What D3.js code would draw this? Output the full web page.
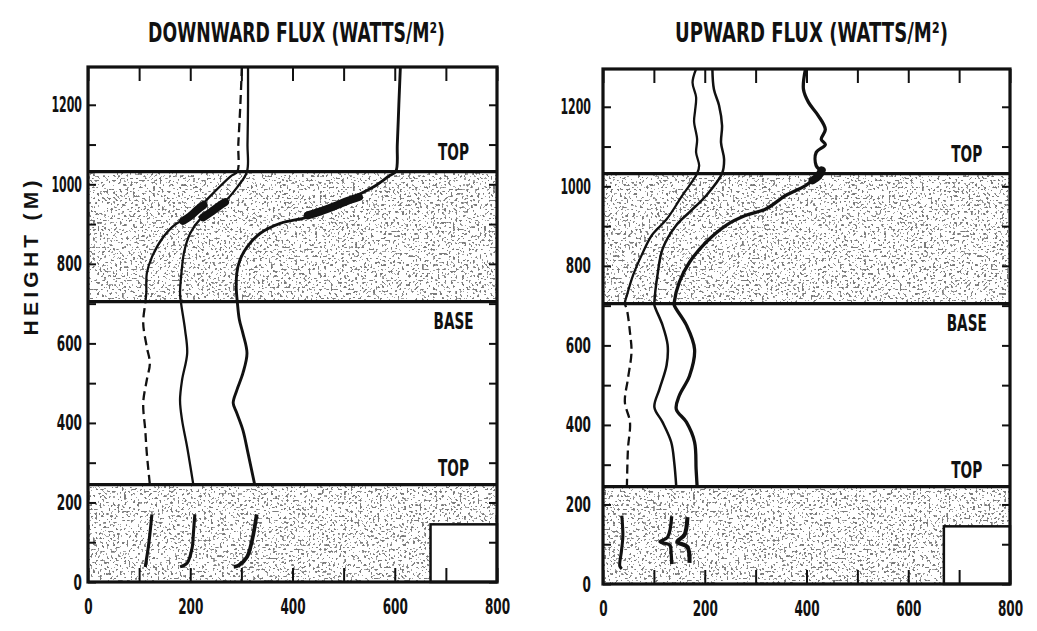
<!DOCTYPE html>
<html>
<head>
<meta charset="utf-8">
<script src="https://cdn.jsdelivr.net/npm/d3@7/dist/d3.min.js"></script>
<style>
  html, body { margin: 0; padding: 0; background: #fff; }
  svg { display: block; }
  text { font-family: "Liberation Sans Narrow", "DejaVu Sans Condensed", "Arial Narrow", sans-serif; font-weight: bold; fill: #111; }
</style>
</head>
<body>
<svg id="chart" width="1037" height="631"></svg>
<script>
// ---- Data: flux profiles, [flux W/m^2, height m] ----
const xTickValues = [0, 100, 200, 300, 400, 500, 600, 700, 800];
const xTickLabels = [0, 200, 400, 600, 800];
const yTickValues = [0, 100, 200, 300, 400, 500, 600, 700, 800, 900, 1000, 1100, 1200];
const yTickLabels = [0, 200, 400, 600, 800, 1000, 1200];

// cloud layers (m)
const upperCloud = [705, 1032];
const lowerCloud = [0, 245];
const clearBox = { flux: [670, 800], height: [0, 145] };
const layerLabels = ["TOP", "BASE", "TOP"];
const panelTitles = ["DOWNWARD FLUX (WATTS/M²)", "UPWARD FLUX (WATTS/M²)"];

// Downward flux
const downA = [[301,1295],[298,1200],[294,1100],[292,1032],[279,1020],[245,978],[213,935],[200,917],[174,902],[147,867],[125,817],[115,776],[114,726],[112,701],[108,651],[115,591],[121,550],[115,508],[108,450],[112,382],[115,324],[121,245]];
const downALow = [[125,170],[121,120],[118,88],[112,38]];
const downB = [[313,1295],[313,1200],[312,1100],[311,1032],[292,993],[264,952],[245,935],[219,912],[200,877],[188,830],[183,780],[180,726],[182,701],[190,633],[194,575],[184,508],[180,457],[184,407],[194,339],[206,245]];
const downBLow = [[209,170],[206,120],[204,88],[194,48],[180,38]];
const downC = [[611,1295],[608,1200],[605,1100],[602,1032],[590,1022],[558,993],[507,960],[467,935],[428,917],[376,902],[337,877],[311,842],[297,809],[291,776],[290,740],[292,705],[296,660],[303,625],[311,575],[303,525],[291,482],[284,450],[291,425],[303,382],[313,324],[326,245]];
const downCLow = [[330,170],[321,105],[311,63],[295,42],[285,38]];
const downThickA = [[226,948],[213,935],[200,920],[186,908]];
const downThickB = [[268,955],[255,944],[240,930],[225,917]];
const downThickC = [[530,968],[507,958],[480,944],[455,932],[430,922]];

// Upward flux
const upA = [[183,1295],[176,1261],[183,1224],[181,1190],[179,1163],[185,1118],[183,1085],[189,1052],[185,1032],[156,977],[125,917],[96,877],[76,827],[59,776],[47,726],[43,706],[47,690],[53,633],[56,583],[49,516],[43,457],[53,407],[49,339],[47,245]];
const upALow = [[37,172],[39,120],[36,80],[33,45],[37,38]];
const upB = [[215,1295],[218,1244],[228,1204],[234,1153],[232,1110],[238,1068],[234,1032],[203,977],[170,935],[144,902],[117,842],[107,776],[101,708],[101,701],[117,651],[127,601],[125,550],[111,490],[101,445],[117,407],[134,357],[140,306],[144,245]];
const upBLow = [[135,170],[127,118],[112,106],[131,98],[134,75],[135,50]];
const upC = [[398,1295],[394,1244],[404,1211],[423,1178],[437,1143],[429,1118],[437,1105],[419,1085],[419,1052],[429,1036],[423,1028],[398,1002],[359,977],[320,943],[281,927],[242,902],[203,860],[170,809],[150,759],[140,708],[140,701],[164,651],[180,590],[170,523],[150,474],[144,440],[164,407],[180,357],[183,289],[185,245]];
const upCLow = [[166,168],[160,123],[146,106],[166,93],[170,53]];
const upThickC = [[430,1040],[423,1025],[412,1015]];

const panels = [
  {
    title: panelTitles[0], titleX: [148, 445],
    x: [88, 497], y: [582, 67], labelPad: 6,
    series: [
      { pts: downA, low: downALow, dashed: true, w: 2.3 },
      { pts: downB, low: downBLow, w: 2.3 },
      { pts: downC, low: downCLow, w: 2.9 }
    ],
    blobs: [downThickA, downThickB, downThickC],
    dashBands: [[1032, 1300], [245, 705]]
  },
  {
    title: panelTitles[1], titleX: [675, 948],
    x: [603, 1010], y: [584, 69], labelPad: 12,
    series: [
      { pts: upA, low: upALow, dashed: true, w: 2.3 },
      { pts: upB, low: upBLow, w: 2.5 },
      { pts: upC, low: upCLow, w: 3.3 }
    ],
    blobs: [upThickC],
    dashBands: [[245, 705]]
  }
];

const svg = d3.select("#chart");
const defs = svg.append("defs");

// speckled texture for the cloud layers
const f = defs.append("filter").attr("id", "stipple")
  .attr("x", 0).attr("y", 0).attr("width", 1).attr("height", 1);
f.append("feTurbulence").attr("type", "fractalNoise").attr("baseFrequency", 0.45)
  .attr("numOctaves", 1).attr("seed", 11).attr("result", "noise");
f.append("feColorMatrix").attr("in", "noise").attr("type", "matrix")
  .attr("values", "0 0 0 0 0.1  0 0 0 0 0.1  0 0 0 0 0.1  1 0 0 0 0").attr("result", "a");
f.append("feComponentTransfer").attr("in", "a")
  .append("feFuncA").attr("type", "discrete")
  .attr("tableValues", "0 0 0 0 0 0 0 0 0 0 0 0 0.55 0.8 0.8 0.8 0.8 0.8 0.8 0.8");

// squeeze a text horizontally so it spans `width` px, keeping its height
function fitWidth(sel, width, ox) {
  const n = sel.node().getComputedTextLength();
  if (n > 0) sel.attr("transform", `translate(${ox},0) scale(${width / n},1) translate(${-ox},0)`);
}

// vertical axis title
svg.append("text")
  .attr("transform", "translate(38,258) rotate(-90)")
  .attr("text-anchor", "middle")
  .attr("font-size", 21)
  .attr("textLength", 155).attr("lengthAdjust", "spacing")
  .style("font-family", "'Liberation Sans', 'DejaVu Sans', sans-serif")
  .text("HEIGHT (M)");

panels.forEach((p, i) => {
  const x = d3.scaleLinear().domain([0, 800]).range(p.x);
  const y = d3.scaleLinear().domain([0, 1295]).range(p.y);
  const g = svg.append("g");

  // panel title
  const cx = (p.titleX[0] + p.titleX[1]) / 2;
  const tt = g.append("text")
    .attr("x", cx).attr("y", 42)
    .attr("text-anchor", "middle")
    .attr("font-size", 27)
    .text(p.title);
  fitWidth(tt, p.titleX[1] - p.titleX[0], cx);

  // cloud layers
  [upperCloud, lowerCloud].forEach(c => {
    g.append("rect")
      .attr("x", x(0)).attr("width", x(800) - x(0))
      .attr("y", y(c[1])).attr("height", y(c[0]) - y(c[1]))
      .attr("fill", "#fff")
      .attr("filter", "url(#stipple)");
  });

  // clear box at the bottom right
  g.append("rect")
    .attr("x", x(clearBox.flux[0])).attr("width", x(clearBox.flux[1]) - x(clearBox.flux[0]))
    .attr("y", y(clearBox.height[1])).attr("height", y(clearBox.height[0]) - y(clearBox.height[1]))
    .attr("fill", "#fff").attr("stroke", "#111").attr("stroke-width", 2.5);

  // layer boundaries
  [upperCloud[1], upperCloud[0], lowerCloud[1]].forEach(h => {
    g.append("line")
      .attr("x1", x(0)).attr("x2", x(800))
      .attr("y1", y(h)).attr("y2", y(h))
      .attr("stroke", "#111").attr("stroke-width", 3.2);
  });

  // layer labels
  const labH = [upperCloud[1] + 28, upperCloud[0] - 68, lowerCloud[1] + 22];
  layerLabels.forEach((s, k) => {
    const lt = g.append("text")
      .attr("x", x(715)).attr("y", y(labH[k]))
      .attr("text-anchor", "middle").attr("font-size", 23)
      .text(s);
    fitWidth(lt, s.length === 3 ? 31 : 40, x(715));
  });

  // clip regions: dashed bands and the rest
  const dashId = "dash" + i, solidId = "solid" + i;
  const cd = defs.append("clipPath").attr("id", dashId);
  p.dashBands.forEach(b => cd.append("rect")
    .attr("x", x(0)).attr("width", x(800) - x(0))
    .attr("y", y(b[1])).attr("height", y(b[0]) - y(b[1])));
  const cs = defs.append("clipPath").attr("id", solidId);
  const edges = [0];
  p.dashBands.slice().sort((a, b) => a[0] - b[0]).forEach(b => { edges.push(b[0]); edges.push(b[1]); });
  edges.push(1300);
  for (let k = 0; k < edges.length; k += 2) {
    cs.append("rect").attr("x", x(0) - 10).attr("width", x(800) - x(0) + 20)
      .attr("y", y(edges[k + 1])).attr("height", y(edges[k]) - y(edges[k + 1]));
  }

  const line = d3.line().x(d => x(d[0])).y(d => y(d[1])).curve(d3.curveCatmullRom.alpha(0.5));

  p.series.forEach(s => {
    [s.pts, s.low].forEach((arr, j) => {
      const w = j === 1 ? s.w + 0.8 : s.w;
      if (s.dashed) {
        g.append("path").attr("d", line(arr)).attr("fill", "none")
          .attr("stroke", "#111").attr("stroke-width", w)
          .attr("stroke-dasharray", "9,5").attr("clip-path", `url(#${dashId})`);
        g.append("path").attr("d", line(arr)).attr("fill", "none")
          .attr("stroke", "#111").attr("stroke-width", w)
          .attr("clip-path", `url(#${solidId})`);
      } else {
        g.append("path").attr("d", line(arr)).attr("fill", "none")
          .attr("stroke", "#111").attr("stroke-width", w)
          .attr("stroke-linejoin", "round");
      }
    });
  });
  p.blobs.forEach(b => {
    g.append("path").attr("d", line(b)).attr("fill", "none")
      .attr("stroke", "#111").attr("stroke-width", 8).attr("stroke-linecap", "round");
  });

  // axes: inward ticks on all sides
  const fmt = d => (yTickLabels.includes(d) ? d : "");
  const fmtX = d => (xTickLabels.includes(d) ? d : "");
  const ax = [
    g.append("g").attr("transform", `translate(${x(0)},0)`)
      .call(d3.axisLeft(y).tickValues(yTickValues).tickSize(-8).tickPadding(p.labelPad).tickFormat(fmt)),
    g.append("g").attr("transform", `translate(${x(800)},0)`)
      .call(d3.axisRight(y).tickValues(yTickValues).tickSize(-8).tickFormat("")),
    g.append("g").attr("transform", `translate(0,${y(0)})`)
      .call(d3.axisBottom(x).tickValues(xTickValues).tickSize(-14).tickPadding(16).tickFormat(fmtX)),
    g.append("g").attr("transform", `translate(0,${y(1295)})`)
      .call(d3.axisTop(x).tickValues(xTickValues).tickSize(-14).tickFormat(""))
  ];
  ax.forEach(a => {
    a.select(".domain").remove();
    a.selectAll("line").attr("stroke", "#111").attr("stroke-width", 2);
    a.selectAll("text").attr("font-size", 22).attr("fill", "#111")
      .attr("font-family", null)
      .each(function () {
        const t = d3.select(this);
        const s = t.text();
        if (s.length) fitWidth(t, s.length * 8.4 - (s.includes("1") ? 3 : 0), +t.attr("x") || 0);
      });
  });

  // frame
  g.append("rect")
    .attr("x", x(0)).attr("y", y(1295))
    .attr("width", x(800) - x(0)).attr("height", y(0) - y(1295))
    .attr("fill", "none").attr("stroke", "#111").attr("stroke-width", 3.2);
});
</script>
</body>
</html>
